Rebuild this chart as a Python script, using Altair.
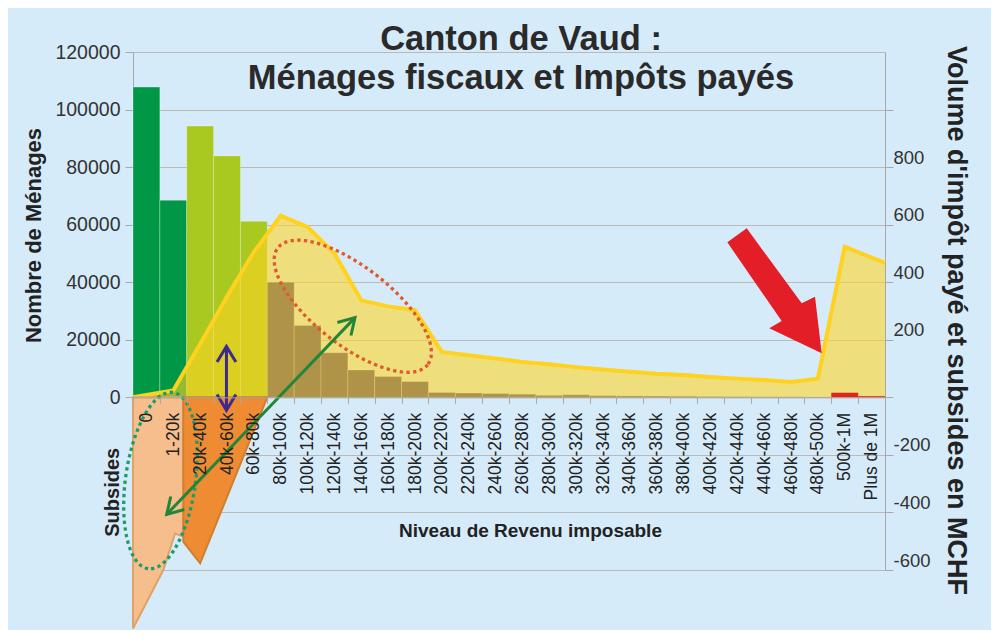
import altair as alt
import numpy as np
import pandas as pd

# ---------------- data ----------------
categories = ["0", "1-20k", "20k-40k", "40k-60k", "60k-80k", "80k-100k", "100k-120k",
              "120k-140k", "140k-160k", "160k-180k", "180k-200k", "200k-220k", "220k-240k",
              "240k-260k", "260k-280k", "280k-300k", "300k-320k", "320k-340k", "340k-360k",
              "360k-380k", "380k-400k", "400k-420k", "420k-440k", "440k-460k", "460k-480k",
              "480k-500k", "500k-1M", "Plus de 1M"]
households = [107800, 68500, 94300, 83900, 61200, 40000, 25000, 15500, 9500, 7200, 5500,
              1700, 1500, 1300, 1100, 700, 900, 600, 500, 450, 400, 300, 250, 200, 200, 150,
              1600, 400]
bar_group = ["bas"] * 2 + ["moyen"] * 3 + ["haut"] * 21 + ["tres_haut"] * 2
tax_mchf = [0, 24, 185, 350, 505, 631, 592, 500, 337, 316, 303, 158, 146, 135, 123, 115,
            105, 97, 89, 82, 78, 71, 65, 60, 53, 65, 523, 467]

# subsidies (MCHF) drawn as two shaded shapes, positions in category units
subs_low_x = [0.0, 1.128, 1.564, 1.873, 1.936]
subs_low_y = [-803, -600, -473, -484, 0]
subs_mid_x = [1.87, 1.875, 2.5, 5.0]
subs_mid_y = [0, -502, -577, 0]

# ---------------- geometry ----------------
W, H = 752, 518
N = len(categories)
Y2_DOMAIN = [-600, 1200]
Y1_DOMAIN = [-60000, 120000]
PX_X = W / N
PX_Y = H / (Y2_DOMAIN[1] - Y2_DOMAIN[0])

GRID = "#b9b9b9"
AXC = "#a8a8a8"
TXT = "#222222"

xq = alt.Scale(domain=[0, N], nice=False, zero=False)
yq = alt.Scale(domain=Y2_DOMAIN, nice=False, zero=False)
xb = alt.Scale(domain=categories, paddingInner=0, paddingOuter=0)
yb = alt.Scale(domain=Y1_DOMAIN, nice=False, zero=False)

bars_df = pd.DataFrame({"cat": categories, "n": households, "grp": bar_group})

tax_x = [i + 0.5 for i in range(N)]
tax_x[0] = 0.0
tax_x[-1] = float(N)
tax_df = pd.DataFrame({"x": tax_x, "v": tax_mchf})

low_df = pd.DataFrame({"x": subs_low_x, "v": subs_low_y})
mid_df = pd.DataFrame({"x": subs_mid_x, "v": subs_mid_y})

# ---------------- households bars ----------------
zero_from_bottom = (0 - Y2_DOMAIN[0]) * PX_Y
x_axis = alt.Axis(
    title="Niveau de Revenu imposable", titleFontSize=19, titleFontWeight="bold",
    titleColor=TXT, titleX=397, titleY=133, titleBaseline="middle", titleAlign="center",
    labelAngle=270, labelFontSize=17.5, labelColor=TXT, labelPadding=9, labelOverlap=False,
    labelLimit=200, tickSize=6, tickColor=AXC, domainColor=AXC, tickBand="extent",
    offset=-zero_from_bottom, grid=False, zindex=1,
)
y_left = alt.Axis(
    values=list(range(0, 120001, 20000)), format="d", orient="left", grid=True,
    gridColor=GRID, domainColor=AXC, tickColor=AXC, tickSize=8, labelFontSize=19.5,
    labelColor="#333333", labelPadding=5, title="Nombre de Ménages", titleFontSize=22,
    titleFontWeight="bold", titleColor=TXT, titleAngle=270, titleX=-100, titleY=183,
    titleBaseline="middle", titleAlign="center",
)

bars = alt.Chart(bars_df).transform_filter("datum.grp != 'tres_haut'").mark_bar(
    stroke="#ffffff", strokeOpacity=0.28, strokeWidth=1
).encode(
    x=alt.X("cat:N", sort=categories, scale=xb, axis=x_axis),
    y=alt.Y("n:Q", scale=yb, axis=y_left),
    color=alt.Color("grp:N", scale=alt.Scale(domain=["bas", "moyen", "haut"],
                                             range=["#009846", "#a9c820", "#3e367d"]),
                    legend=None),
)

red_bars = alt.Chart(bars_df).transform_filter("datum.grp == 'tres_haut'").mark_bar(
    color="#e1251b"
).encode(
    x=alt.X("cat:N", sort=categories, scale=xb, axis=None),
    y=alt.Y("n:Q", scale=yb, axis=None),
)

# ---------------- MCHF ----------------
y_right = alt.Axis(
    orient="right", values=[-600, -400, -200, 0, 200, 400, 600, 800, 1000],
    labelExpr="(datum.value == 0 || datum.value == 1000) ? '' : '' + datum.value",
    grid=True, gridColor=GRID, tickSize=8, tickColor=AXC, domainColor=AXC,
    labelFontSize=18.5, labelColor="#333333", labelPadding=0, labelBaseline="bottom",
    title="Volume d'impôt payé et subsides en MCHF", titleAngle=90, titleFontSize=27,
    titleFontWeight="bold", titleColor=TXT, titleX=70, titleY=268,
    titleBaseline="middle", titleAlign="center",
)


def qx():
    return alt.X("x:Q", scale=xq, axis=None)


def qy(axis=None):
    return alt.Y("v:Q", scale=yq, axis=axis)


tax_area = alt.Chart(tax_df).mark_area(color="#ffd523", fillOpacity=0.59).encode(
    x=qx(), y=qy(y_right))
tax_line = alt.Chart(tax_df).mark_line(color="#fed21f", strokeWidth=4).encode(x=qx(), y=qy())
low_area = alt.Chart(low_df).mark_area(color="#f5be8c", stroke="#dca46a",
                                       strokeWidth=2).encode(x=qx(), y=qy())
mid_area = alt.Chart(mid_df).mark_area(color="#ef8c33", stroke="#cf7f2e",
                                       strokeWidth=2).encode(x=qx(), y=qy())


# annotations (in data units)
def ellipse(cx, cy, a_px, b_px, theta_deg, n=160):
    t = np.linspace(0, 2 * np.pi, n)
    th = np.radians(theta_deg)
    px = a_px * np.cos(t) * np.cos(th) - b_px * np.sin(t) * np.sin(th)
    py = a_px * np.cos(t) * np.sin(th) + b_px * np.sin(t) * np.cos(th)
    return pd.DataFrame({"x": cx + px / PX_X, "v": cy - py / PX_Y, "o": np.arange(n)})


def dotted(df, color):
    return alt.Chart(df).mark_line(color=color, strokeWidth=3.3, strokeDash=[3.3, 3.4],
                                   strokeCap="butt").encode(x=qx(), y=qy(), order="o:Q")


def head_angle(x0, y0, x1, y1):
    dx = (x1 - x0) * PX_X
    dy = -(y1 - y0) * PX_Y
    return float(np.degrees(np.arctan2(dx, -dy)) % 360)


CHEVRON = "M-0.6,1L0,0L0.6,1"


def arrow_parts(x0, y0, x1, y1, color):
    shaft = alt.Chart(pd.DataFrame({"x": [x0], "v": [y0], "x2": [x1], "v2": [y1]})).mark_rule(
        color=color, strokeWidth=3).encode(x=qx(), x2="x2:Q", y=qy(), y2="v2:Q")
    heads_df = pd.DataFrame({"x": [x0, x1], "v": [y0, y1],
                             "a": [head_angle(x1, y1, x0, y0), head_angle(x0, y0, x1, y1)]})
    heads = alt.Chart(heads_df).mark_point(shape=CHEVRON, filled=False, stroke=color,
                                           strokeWidth=3, size=986, opacity=1).encode(
        x=qx(), y=qy(), angle=alt.Angle("a:Q", scale=None))
    return [shaft, heads]


red_ellipse = dotted(ellipse(8.184, 316.6, 95, 39, 38), "#e0582c")
green_ellipse = dotted(ellipse(1.024, -289.1, 89, 35, 98), "#1f9a6c")
green_arrow = arrow_parts(1.255, -406.6, 8.266, 277, "#22863a")
purple_arrow = arrow_parts(3.48, -45, 3.48, 177, "#3d2b8c")

ARROW = ("M-0.749,-0.773L-0.441,-0.995L0.432,0.195L0.643,0.090L0.749,0.989"
         "L-0.083,0.592L0.114,0.476Z")
red_arrow = alt.Chart(pd.DataFrame({"x": [23.886], "v": [369.4]})).mark_point(
    shape=ARROW, filled=True, color="#e31e26", size=15876, opacity=1, strokeWidth=0
).encode(x=qx(), y=qy())

subs_text = alt.Chart(pd.DataFrame({"x": [-0.745], "v": [-330], "t": ["Subsides"]})).mark_text(
    angle=270, fontSize=20, fontWeight="bold", color=TXT
).encode(x=qx(), y=qy(), text="t:N")

layers = [bars, tax_area, tax_line, low_area, mid_area, red_bars, red_ellipse, green_ellipse,
          *green_arrow, *purple_arrow, subs_text, red_arrow]

chart = alt.layer(*layers).resolve_scale(
    x="independent", y="independent"
).properties(
    width=W, height=H,
    autosize=alt.AutoSizeParams(type="none"),
    padding={"left": 125, "top": 44, "right": 106, "bottom": 60},
    background="#d6ebf9",
    title=alt.TitleParams(
        text=["Canton de Vaud :", "Ménages fiscaux et Impôts payés"],
        font="Liberation Sans", fontSize=34.5, fontWeight="bold", color="#2a2a2a",
        anchor="middle", frame="group", offset=-54, lineHeight=39, dx=12,
    ),
).configure(font="Liberation Sans").configure_view(stroke=None)

chart.save("out.html", embed_options={"renderer": "svg", "actions": False})
